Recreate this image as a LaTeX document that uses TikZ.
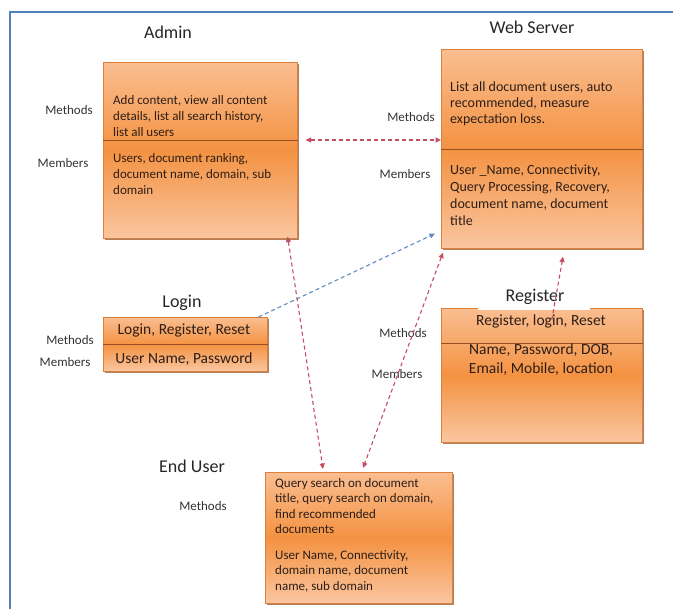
\documentclass[tikz,border=0pt]{standalone}
\usepackage{fontspec}
\setmainfont{Carlito}
\usetikzlibrary{arrows.meta,shadows}
\definecolor{boxtop}{RGB}{250,190,145}
\definecolor{boxmid}{RGB}{244,146,66}
\definecolor{boxbot}{RGB}{250,198,160}
\definecolor{boxline}{RGB}{222,128,58}
\definecolor{boxtext}{RGB}{45,30,22}
\definecolor{frameblue}{RGB}{79,129,189}
\definecolor{linkred}{RGB}{196,78,98}
\definecolor{linkblue}{RGB}{95,138,195}
\begin{document}
\begin{tikzpicture}[x=1pt,y=-1pt,
    classbox/.style={draw=boxline, line width=0.6pt, top color=boxtop, bottom color=boxbot, middle color=boxmid,
      drop shadow={shadow xshift=1.6pt, shadow yshift=-1.6pt, fill=boxline!60!black, opacity=0.7},
      anchor=north west, inner sep=0pt},
    divider/.style={draw={rgb,255:red,150;green,80;blue,35}, line width=0.8pt},
    title/.style={font=\fontsize{18}{20}\selectfont, text=black!85},
    tag/.style={font=\fontsize{13}{15}\selectfont, text=black!80},
    boxtext/.style={text=boxtext, inner sep=0pt, align=left, anchor=north west},
    link/.style={dash pattern=on 4pt off 3pt, line width=1.1pt, arrows={<->}, >={Triangle[length=5.5pt,width=5pt]}},
    redlink/.style={link, draw=linkred},
    bluelink/.style={link, draw=linkblue, arrows={->}}]
  \useasboundingbox (0,0) rectangle (673,609);
  \draw[frameblue, line width=2pt] (10,609) -- (10,12) -- (673,12);

  % class boxes
  \node[classbox, minimum width=194pt, minimum height=176pt] (admin) at (103,62) {};
  \node[classbox, minimum width=201pt, minimum height=199pt] (ws) at (441,49) {};
  \node[classbox, minimum width=164pt, minimum height=54pt] (login) at (103,317) {};
  \node[classbox, minimum width=201pt, minimum height=134pt] (register) at (441,308) {};
  \node[classbox, minimum width=187pt, minimum height=131pt] (enduser) at (265,472) {};
  \fill[white] (478,305) rectangle (590,310.5);

  \draw[divider] ([yshift=-78pt]admin.north west) -- ([yshift=-78pt]admin.north east);
  \draw[divider] ([yshift=-100pt]ws.north west) -- ([yshift=-100pt]ws.north east);
  \draw[divider] ([yshift=-27pt]login.north west) -- ([yshift=-27pt]login.north east);
  \draw[divider] ([yshift=-35pt]register.north west) -- ([yshift=-35pt]register.north east);

  % titles and labels
  \node[title] (admintitle) at (168,32) {Admin};
  \node[title] (wstitle) at (532,27) {Web Server};
  \node[title] (logintitle) at (182,303) {Login};
  \node[title] (registertitle) at (535,297) {Register};
  \node[title] (endusertitle) at (192,466) {End User};

  \node[tag] (adminmeth) at (69,110) {Methods};
  \node[tag] (adminmemb) at (63,163) {Members};
  \node[tag] (wsmeth) at (411,117) {Methods};
  \node[tag] (wsmemb) at (405,174) {Members};
  \node[tag] (loginmeth) at (70,340) {Methods};
  \node[tag] (loginmemb) at (65,362) {Members};
  \node[tag] (registermeth) at (403,333) {Methods};
  \node[tag] (registermemb) at (397,374) {Members};
  \node[tag] (endusermeth) at (203,506) {Methods};

  % box contents
  \node[boxtext, font=\fontsize{13}{16}\selectfont] (admintop) at (113,92.8)
    {\strut Add content, view all content\\details, list all search history,\\list all users};
  \node[boxtext, font=\fontsize{13}{16}\selectfont] (adminbottom) at (113,150.8)
    {\strut Users, document ranking,\\document name, domain, sub\\domain};
  \node[boxtext, font=\fontsize{14}{16}\selectfont] (wstop) at (450,80.3)
    {\strut List all document users, auto\\recommended, measure\\expectation loss.};
  \node[boxtext, font=\fontsize{14}{17}\selectfont] (wsbottom) at (450,162.6)
    {\strut User \_Name, Connectivity,\\Query Processing, Recovery,\\document name, document\\title};
  \node[boxtext, font=\fontsize{15.5}{18}\selectfont, anchor=base] (logintop) at (184,335) {Login, Register, Reset};
  \node[boxtext, font=\fontsize{15.5}{18}\selectfont, anchor=base] (loginbottom) at (184,364) {User Name, Password};
  \node[boxtext, font=\fontsize{15.5}{19}\selectfont, anchor=base] (registertop) at (541,326) {Register, login, Reset};
  \node[boxtext, font=\fontsize{15.5}{19}\selectfont, anchor=north, align=center] (registerbottom) at (541,340.7)
    {\strut Name, Password, DOB,\\Email, Mobile, location};
  \node[boxtext, font=\fontsize{13}{15.5}\selectfont] (endusertop) at (275,476.2)
    {\strut Query search on document\\title, query search on domain,\\find recommended\\documents};
  \node[boxtext, font=\fontsize{13}{15.5}\selectfont] (enduserbottom) at (275,548.2)
    {\strut User Name, Connectivity,\\domain name, document\\name, sub domain};

  % links
  \draw[redlink] ([xshift=8pt,yshift=-78pt]admin.north east) -- ([yshift=-91pt]ws.north west);
  \draw[bluelink] ([xshift=-9pt]login.north east) -- ([xshift=-6pt,yshift=15pt]ws.south west);
  \draw[redlink] ([xshift=-10pt,yshift=2pt]admin.south east) -- ([xshift=58pt,yshift=3pt]enduser.north west);
  \draw[redlink] ([xshift=2pt,yshift=-4pt]ws.south west) -- ([xshift=98pt,yshift=4pt]enduser.north west);
  \draw[redlink, arrows={->}] ([xshift=10pt,yshift=-12pt]register.north) -- ([xshift=122pt,yshift=-8pt]ws.south west);
\end{tikzpicture}
\end{document}
